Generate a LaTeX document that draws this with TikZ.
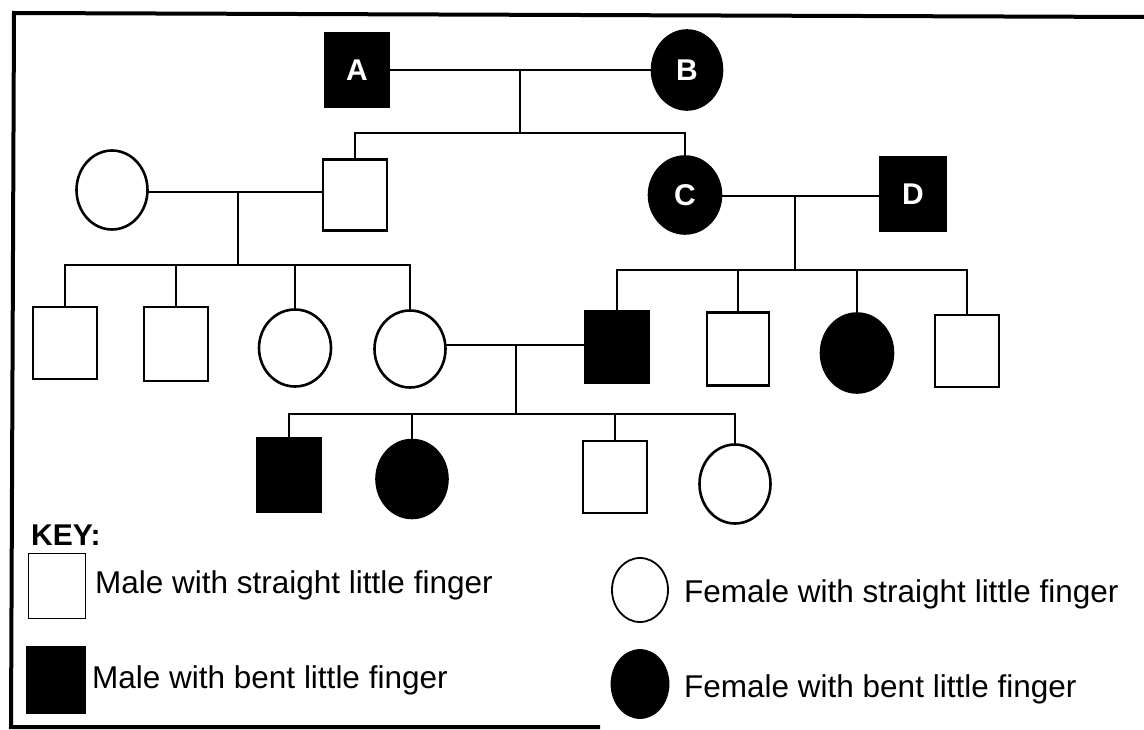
\documentclass[tikz,border=0pt]{standalone}
\usepackage{fontspec}
\setmainfont{Liberation Sans}
\usetikzlibrary{shapes.geometric}
\begin{document}
\begin{tikzpicture}[x=1pt,y=-1pt,
  person/.style={inner sep=0pt,outer sep=0pt,line width=2.6pt,draw=black},
  msq/.style={person,rectangle},
  fcirc/.style={person,ellipse},
  aff/.style={fill=black,text=white,font=\fontsize{30}{30}\selectfont\bfseries},
  link/.style={line width=2pt,black},
  frame/.style={line width=4pt,black},
  keytext/.style={anchor=base west,inner sep=0pt,font=\fontsize{31.5}{34}\selectfont}
]
\useasboundingbox (0,0) rectangle (1144,730);
% frame
\draw[frame] (1144,17) -- (14,13) -- (11,727) -- (600,727);
% generation I
\node[msq,aff,minimum width=64pt,minimum height=74pt] (A) at (357,70) {A};
\node[fcirc,aff,minimum width=70pt,minimum height=79pt] (B) at (687,70) {B};
% generation II
\node[fcirc,minimum width=71pt,minimum height=79pt] (W) at (112,190) {};
\node[msq,minimum width=64pt,minimum height=71pt] (S) at (355,195) {};
\node[fcirc,aff,minimum width=72pt,minimum height=77pt] (C) at (685,195) {C};
\node[msq,aff,minimum width=65pt,minimum height=74pt] (D) at (913,194) {D};
% generation III
\node[msq,minimum width=64pt,minimum height=72pt] (s1) at (65,343) {};
\node[msq,minimum width=64pt,minimum height=74pt] (s2) at (176,344) {};
\node[fcirc,minimum width=72pt,minimum height=77pt] (s3) at (295,348) {};
\node[fcirc,minimum width=71pt,minimum height=77pt] (s4) at (410,349) {};
\node[msq,aff,minimum width=64pt,minimum height=71pt] (s5) at (617,347) {};
\node[msq,minimum width=62pt,minimum height=73pt] (s6) at (738,349) {};
\node[fcirc,aff,minimum width=72pt,minimum height=79pt] (s7) at (857,353) {};
\node[msq,minimum width=64pt,minimum height=72pt] (s8) at (967,351) {};
% generation IV
\node[msq,aff,minimum width=63pt,minimum height=74pt] (g1) at (289,475) {};
\node[fcirc,aff,minimum width=71pt,minimum height=78pt] (g2) at (412,479) {};
\node[msq,minimum width=64pt,minimum height=72pt] (g3) at (615,477) {};
\node[fcirc,minimum width=71pt,minimum height=79pt] (g4) at (735,484) {};
% connectors: A x B
\coordinate (mAB) at (520,70);
\coordinate (sAB) at (520,133);
\draw[link] (A.east) -- (B.west);
\draw[link] (mAB) -- (sAB);
\draw[link] (S.north) |- (sAB);
\draw[link] (C.north) |- (sAB);
% W x S
\coordinate (mWS) at (238,192);
\coordinate (sWS) at (238,265);
\draw[link] (W.east |- mWS) -- (S.west |- mWS);
\draw[link] (mWS) -- (sWS);
\draw[link] (s1.north) |- (sWS);
\draw[link] (s2.north) |- (sWS);
\draw[link] (s3.north) |- (sWS);
\draw[link] (s4.north) |- (sWS);
% C x D
\coordinate (mCD) at (795,196);
\coordinate (sCD) at (795,270);
\draw[link] (C.east |- mCD) -- (D.west |- mCD);
\draw[link] (mCD) -- (sCD);
\draw[link] (s5.north) |- (sCD);
\draw[link] (s6.north) |- (sCD);
\draw[link] (s7.north) |- (sCD);
\draw[link] (s8.north) |- (sCD);
% s4 x s5
\coordinate (m45) at (516,345);
\coordinate (s45) at (516,414);
\draw[link] (s4.east |- m45) -- (s5.west |- m45);
\draw[link] (m45) -- (s45);
\draw[link] (g1.north) |- (s45);
\draw[link] (g2.north) |- (s45);
\draw[link] (g3.north) |- (s45);
\draw[link] (g4.north) |- (s45);
% key
\node[anchor=base west,inner sep=0pt,font=\fontsize{30}{32}\selectfont\bfseries] (key) at (31,545) {KEY:};
\node[msq,line width=1.8pt,minimum width=57pt,minimum height=65pt] (k1) at (57,586) {};
\node[msq,aff,line width=1.8pt,minimum width=58pt,minimum height=67pt] (k2) at (56,680) {};
\node[fcirc,line width=1.8pt,minimum width=56pt,minimum height=64pt] (k3) at (640,590) {};
\node[fcirc,aff,line width=1.8pt,minimum width=57pt,minimum height=68pt] (k4) at (640,684) {};
\node[keytext] (t1) at (95,593) {Male with straight little finger};
\node[keytext] (t2) at (92,688) {Male with bent little finger};
\node[keytext] (t3) at (684,602) {Female with straight little finger};
\node[keytext] (t4) at (684,697) {Female with bent little finger};
\end{tikzpicture}
\end{document}
